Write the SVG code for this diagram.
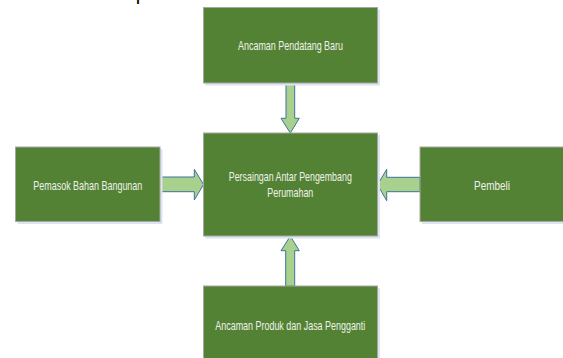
<svg xmlns="http://www.w3.org/2000/svg" width="563" height="358" viewBox="0 0 563 358">
<style>
.box{fill:#548235;stroke:#a6a6a6;stroke-width:1}
.sh{fill:#dbe4f0}
.lbl{font-family:"Liberation Sans",Arial,sans-serif;font-size:13px;fill:#eef2ea;text-anchor:middle}
.arr{fill:#a9d18e;stroke:#41719c;stroke-width:1;stroke-linejoin:miter}
</style>
<rect width="563" height="358" fill="#ffffff"/>
<text x="135.7" y="0" font-family="Liberation Sans, Arial, sans-serif" font-size="20" fill="#000">p</text>
<g id="connectors">
<polygon class="arr" points="286,83 294.7,83 294.7,118.3 299.3,118.3 290.3,133 281,118.3 286,118.3"/>
<polygon class="arr" points="160.5,177 194.3,177 194.3,169.3 203.5,184.5 194.3,200 194.3,191.7 160.5,191.7"/>
<polygon class="arr" points="420,177.3 386.7,177.3 386.7,169.3 377.5,184.8 386.7,200.7 386.7,191.7 420,191.7"/>
<polygon class="arr" points="285.7,286 294.7,286 294.7,250.7 299.3,250.7 290.3,236 281,250.7 285.7,250.7"/>
</g>
<g id="n_top">
<rect class="sh" x="205.5" y="9.5" width="174.5" height="76"/>
<rect class="box" x="203.5" y="7.5" width="174" height="75.5"/>
<text class="lbl" x="290.5" y="49.5" textLength="105" lengthAdjust="spacingAndGlyphs">Ancaman Pendatang Baru</text>
</g>
<g id="n_center">
<rect class="sh" x="205.5" y="135" width="174.5" height="103.5"/>
<rect class="box" x="203.5" y="133" width="174" height="103"/>
<text class="lbl" x="290.3" y="181" textLength="123" lengthAdjust="spacingAndGlyphs">Persaingan Antar Pengembang</text>
<text class="lbl" x="290.3" y="197" textLength="46" lengthAdjust="spacingAndGlyphs">Perumahan</text>
</g>
<g id="n_left">
<rect class="sh" x="17.5" y="149" width="145" height="75"/>
<rect class="box" x="15.5" y="147" width="144.5" height="74.5"/>
<text class="lbl" x="87.8" y="189.5" textLength="109" lengthAdjust="spacingAndGlyphs">Pemasok Bahan Bangunan</text>
</g>
<g id="n_right">
<rect class="sh" x="422" y="149" width="150" height="75"/>
<rect class="box" x="420" y="147" width="150" height="74.5"/>
<text class="lbl" x="492" y="189.5" textLength="36" lengthAdjust="spacingAndGlyphs">Pembeli</text>
</g>
<g id="n_bottom">
<rect class="sh" x="205.5" y="288" width="174.5" height="80"/>
<rect class="box" x="203.5" y="286" width="174" height="80"/>
<text class="lbl" x="290.3" y="329.5" textLength="150" lengthAdjust="spacingAndGlyphs">Ancaman Produk dan Jasa Pengganti</text>
</g>
</svg>
